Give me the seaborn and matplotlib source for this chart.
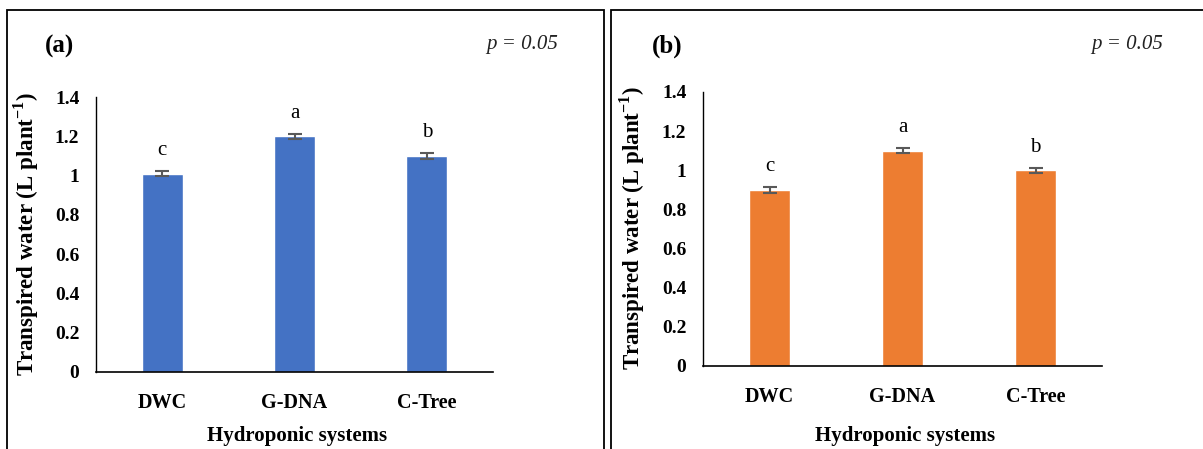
import matplotlib
matplotlib.use("Agg")
import matplotlib.pyplot as plt
import seaborn as sns
import pandas as pd
from matplotlib.patches import Rectangle

sns.set_theme(style="white")
plt.rcParams['font.family'] = ['Liberation Serif', 'DejaVu Serif']
plt.rcParams['mathtext.fontset'] = 'custom'
plt.rcParams['mathtext.rm'] = 'Liberation Serif'
plt.rcParams['mathtext.bf'] = 'Liberation Serif:bold'
plt.rcParams['text.color'] = 'black'
plt.rcParams['xtick.color'] = 'black'
plt.rcParams['ytick.color'] = 'black'
plt.rcParams['axes.labelcolor'] = 'black'

systems = ["DWC", "G-DNA", "C-Tree"]
values_a = [1.01, 1.20, 1.10]
errors_a = [0.014, 0.014, 0.014]
letters_a = ["c", "a", "b"]
values_b = [0.90, 1.10, 1.00]
errors_b = [0.014, 0.014, 0.014]
letters_b = ["c", "a", "b"]
yticks = [0, 0.2, 0.4, 0.6, 0.8, 1, 1.2, 1.4]
ytick_labels = ["0", "0.2", "0.4", "0.6", "0.8", "1", "1.2", "1.4"]

W, H = 1203, 449
fig = plt.figure(figsize=(W / 100, H / 100), dpi=100)

# panel frames
for (x0, x1) in [(7, 604), (611, 1210)]:
    fig.patches.append(Rectangle((x0 / W, -0.05), (x1 - x0) / W, (H - 10) / H + 0.05,
                                 transform=fig.transFigure, fill=False,
                                 edgecolor="black", linewidth=1.3))

panels = [
    dict(vals=values_a, errs=errors_a, lets=letters_a, color="#4472C4",
         box=(96, 493, 372, 97), tag="(a)", tagx=60, tagy=46, px=522, ylx=26, yly=234,
         xlx=297, xly=436),
    dict(vals=values_b, errs=errors_b, lets=letters_b, color="#ED7D31",
         box=(703, 1102, 366, 92), tag="(b)", tagx=667, tagy=46, px=1127, ylx=632, yly=228,
         xlx=905, xly=436),
]

for p in panels:
    l, r, b, t = p["box"]
    ax = fig.add_axes([l / W, 1 - b / H, (r - l) / W, (b - t) / H])
    df = pd.DataFrame({"system": systems, "value": p["vals"]})
    sns.barplot(data=df, x="system", y="value", color=p["color"], saturation=1,
                width=0.31, ax=ax, errorbar=None)
    ax.errorbar(range(len(systems)), p["vals"], yerr=p["errs"], fmt="none",
                ecolor="#595959", elinewidth=1.5, capsize=5, capthick=1.5)
    for i, (v, e, s) in enumerate(zip(p["vals"], p["errs"], p["lets"])):
        ax.text(i, v + e + 0.055, s, ha="center", va="bottom", fontsize=15, color="black")
    ax.set_ylim(0, 1.4)
    ax.set_xlim(-0.5, 2.5)
    ax.set_yticks(yticks)
    ax.set_yticklabels(ytick_labels, fontsize=14, fontweight="bold")
    ax.set_xticks(range(len(systems)))
    ax.set_xticklabels(systems, fontsize=14.5, fontweight="bold")
    ax.tick_params(axis="both", length=0, colors="black")
    ax.tick_params(axis="y", pad=12)
    ax.tick_params(axis="x", pad=15)
    ax.set_xlabel("")
    ax.set_ylabel("")
    for side in ["top", "right"]:
        ax.spines[side].set_visible(False)
    ax.spines["left"].set_color("black")
    ax.spines["left"].set_linewidth(1.0)
    ax.spines["bottom"].set_color("black")
    ax.spines["bottom"].set_linewidth(1.2)
    ax.set_facecolor("white")

    fig.text(p["tagx"] / W, 1 - p["tagy"] / H, p["tag"], ha="center", va="center",
             fontsize=18, fontweight="bold", color="black")
    fig.text(p["px"] / W, 1 - 45 / H, "p = 0.05", ha="center", va="center",
             fontsize=15, style="italic", color="#222222")
    fig.text(p["ylx"] / W, 1 - p["yly"] / H, r"Transpired water (L plant$^{\mathbf{-1}}$)",
             rotation=90, ha="center", va="center", fontsize=16.5, fontweight="bold",
             color="black")
    fig.text(p["xlx"] / W, 1 - p["xly"] / H, "Hydroponic systems", ha="center", va="center",
             fontsize=15, fontweight="bold", color="black")

fig.savefig("out.png", dpi=100, facecolor="white")
